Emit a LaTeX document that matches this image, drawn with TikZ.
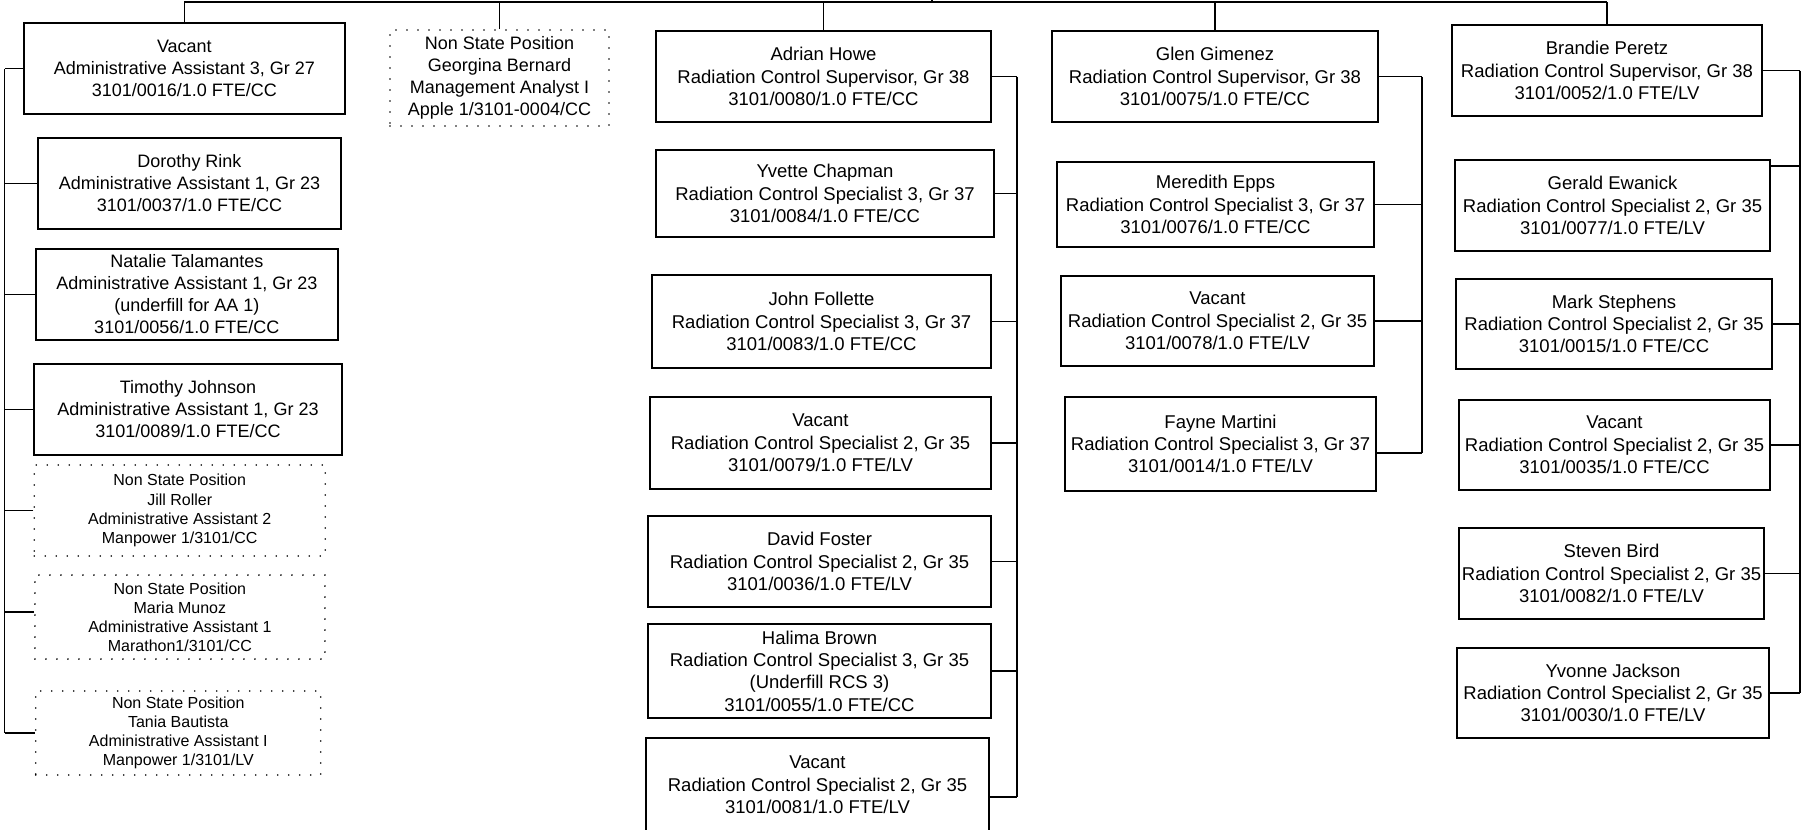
\documentclass[tikz,border=0pt]{standalone}
\usepackage{fontspec}
\setmainfont{Liberation Sans}
\begin{document}
\begin{tikzpicture}[x=1pt,y=-1pt,
  box/.style={draw, line width=1.6pt, inner sep=0pt, align=center, font=\fontsize{18.5}{22.3}\selectfont},
  lbox/.style={box, font=\fontsize{18}{22}\selectfont},
  nsp/.style={draw, line width=1.8pt, line cap=round, dash pattern=on 0pt off 11pt, inner sep=0pt, align=center, font=\fontsize{16}{19.1}\selectfont},
  gbox/.style={nsp, font=\fontsize{18}{22.2}\selectfont},
  wire/.style={line width=1.6pt}]
\useasboundingbox[fill=white] (0,0) rectangle (1802,830);

% ---- left column
\node[lbox, minimum width=321pt, minimum height=91pt] (aa3) at (184.4,68.5) {Vacant\\Administrative Assistant 3, Gr 27\\3101/0016/1.0 FTE/CC};
\node[lbox, minimum width=303pt, minimum height=91pt] (rink) at (189.5,183.5) {Dorothy Rink\\Administrative Assistant 1, Gr 23\\3101/0037/1.0 FTE/CC};
\node[lbox, minimum width=302pt, minimum height=91pt] (tal) at (186.8,294.5) {Natalie Talamantes\\Administrative Assistant 1, Gr 23\\(underfill for AA 1)\\3101/0056/1.0 FTE/CC};
\node[lbox, minimum width=308pt, minimum height=91pt] (tjo) at (188,409.5) {Timothy Johnson\\Administrative Assistant 1, Gr 23\\3101/0089/1.0 FTE/CC};
\node[nsp, minimum width=291pt, minimum height=91pt] (jill) at (179.7,510.5) {Non State Position\\Jill Roller\\Administrative Assistant 2\\Manpower 1/3101/CC};
\node[nsp, minimum width=290pt, minimum height=84pt] (maria) at (179.9,617) {Non State Position\\Maria Munoz\\Administrative Assistant 1\\Marathon1/3101/CC};
\node[nsp, minimum width=285pt, minimum height=84pt] (tania) at (178.3,733) {Non State Position\\Tania Bautista\\Administrative Assistant I\\Manpower 1/3101/LV};

\node[gbox, minimum width=219pt, minimum height=96pt] (geo) at (499.5,78) {Non State Position\\Georgina Bernard\\Management Analyst I\\Apple 1/3101-0004/CC};

% ---- column A
\node[box, minimum width=335pt, minimum height=91pt] (howe) at (823.5,76.5) {Adrian Howe\\Radiation Control Supervisor, Gr 38\\3101/0080/1.0 FTE/CC};
\node[box, minimum width=338pt, minimum height=87pt] (chap) at (825,193.5) {Yvette Chapman\\Radiation Control Specialist 3, Gr 37\\3101/0084/1.0 FTE/CC};
\node[box, minimum width=339pt, minimum height=93pt] (foll) at (821.5,321.5) {John Follette\\Radiation Control Specialist 3, Gr 37\\3101/0083/1.0 FTE/CC};
\node[box, minimum width=341pt, minimum height=92pt] (vacA) at (820.5,443) {Vacant\\Radiation Control Specialist 2, Gr 35\\3101/0079/1.0 FTE/LV};
\node[box, minimum width=343pt, minimum height=91pt] (fost) at (819.5,561.5) {David Foster\\Radiation Control Specialist 2, Gr 35\\3101/0036/1.0 FTE/LV};
\node[box, minimum width=343pt, minimum height=94pt] (brown) at (819.5,671) {Halima Brown\\Radiation Control Specialist 3, Gr 35\\(Underfill RCS 3)\\3101/0055/1.0 FTE/CC};
\node[box, minimum width=343pt, minimum height=94pt] (vacB) at (817.5,785) {Vacant\\Radiation Control Specialist 2, Gr 35\\3101/0081/1.0 FTE/LV};

% ---- column B
\node[box, minimum width=326pt, minimum height=91pt] (gim) at (1215,76.5) {Glen Gimenez\\Radiation Control Supervisor, Gr 38\\3101/0075/1.0 FTE/CC};
\node[box, minimum width=317pt, minimum height=85pt] (epps) at (1215.5,204.5) {Meredith Epps\\Radiation Control Specialist 3, Gr 37\\3101/0076/1.0 FTE/CC};
\node[box, minimum width=313pt, minimum height=90pt] (vacC) at (1217.5,321) {Vacant\\Radiation Control Specialist 2, Gr 35\\3101/0078/1.0 FTE/LV};
\node[box, minimum width=311pt, minimum height=94pt] (mart) at (1220.5,444) {Fayne Martini\\Radiation Control Specialist 3, Gr 37\\3101/0014/1.0 FTE/LV};

% ---- column C
\node[box, minimum width=310pt, minimum height=91pt] (per) at (1607,70.5) {Brandie Peretz\\Radiation Control Supervisor, Gr 38\\3101/0052/1.0 FTE/LV};
\node[box, minimum width=315pt, minimum height=91pt] (ewa) at (1612.5,205.5) {Gerald Ewanick\\Radiation Control Specialist 2, Gr 35\\3101/0077/1.0 FTE/LV};
\node[box, minimum width=316pt, minimum height=90pt] (ste) at (1614,324) {Mark Stephens\\Radiation Control Specialist 2, Gr 35\\3101/0015/1.0 FTE/CC};
\node[box, minimum width=311pt, minimum height=90pt] (vacD) at (1614.5,445) {Vacant\\Radiation Control Specialist 2, Gr 35\\3101/0035/1.0 FTE/CC};
\node[box, minimum width=305pt, minimum height=91pt] (bird) at (1611.5,573.5) {Steven Bird\\Radiation Control Specialist 2, Gr 35\\3101/0082/1.0 FTE/LV};
\node[box, minimum width=312pt, minimum height=90pt] (jack) at (1613,693) {Yvonne Jackson\\Radiation Control Specialist 2, Gr 35\\3101/0030/1.0 FTE/LV};

% ---- top bus
\coordinate (topL) at (184.4,2);
\coordinate (topR) at (1607,2);
\coordinate (parent) at (932,-6);
\draw[wire] (topL) -- (topR);
\draw[wire] (parent) -- (parent |- topL);
\foreach \n in {aa3,geo,howe,gim,per}
  \draw[wire] (\n.north) -- (\n.north |- topL);

% ---- left bus
\coordinate (busL) at (4.5,0);
\coordinate (mariaC) at ([yshift=5pt]maria.west);
\draw[wire] (busL |- aa3.west) -- (busL |- tania.west);
\foreach \n in {aa3,rink,tal,tjo,jill,tania}
  \draw[wire] (\n.west) -- (\n.west -| busL);
\draw[wire] (mariaC) -- (mariaC -| busL);

% ---- bus A
\coordinate (busA) at (1017,0);
\coordinate (vacBC) at ([yshift=-12pt]vacB.east);
\draw[wire] (busA |- howe.east) -- (busA |- vacBC);
\foreach \n in {howe,chap,foll,vacA,fost,brown}
  \draw[wire] (\n.east) -- (\n.east -| busA);
\draw[wire] (vacBC) -- (vacBC -| busA);

% ---- bus B
\coordinate (busB) at (1422,0);
\coordinate (martC) at ([yshift=-9pt]mart.east);
\draw[wire] (busB |- gim.east) -- (busB |- martC);
\foreach \n in {gim,epps,vacC}
  \draw[wire] (\n.east) -- (\n.east -| busB);
\draw[wire] (martC) -- (martC -| busB);

% ---- bus C
\coordinate (busC) at (1800,0);
\coordinate (ewaC) at ([yshift=39.5pt]ewa.east);
\draw[wire] (busC |- per.east) -- (busC |- jack.east);
\foreach \n in {per,ste,vacD,bird,jack}
  \draw[wire] (\n.east) -- (\n.east -| busC);
\draw[wire] (ewaC) -- (ewaC -| busC);
\end{tikzpicture}
\end{document}
